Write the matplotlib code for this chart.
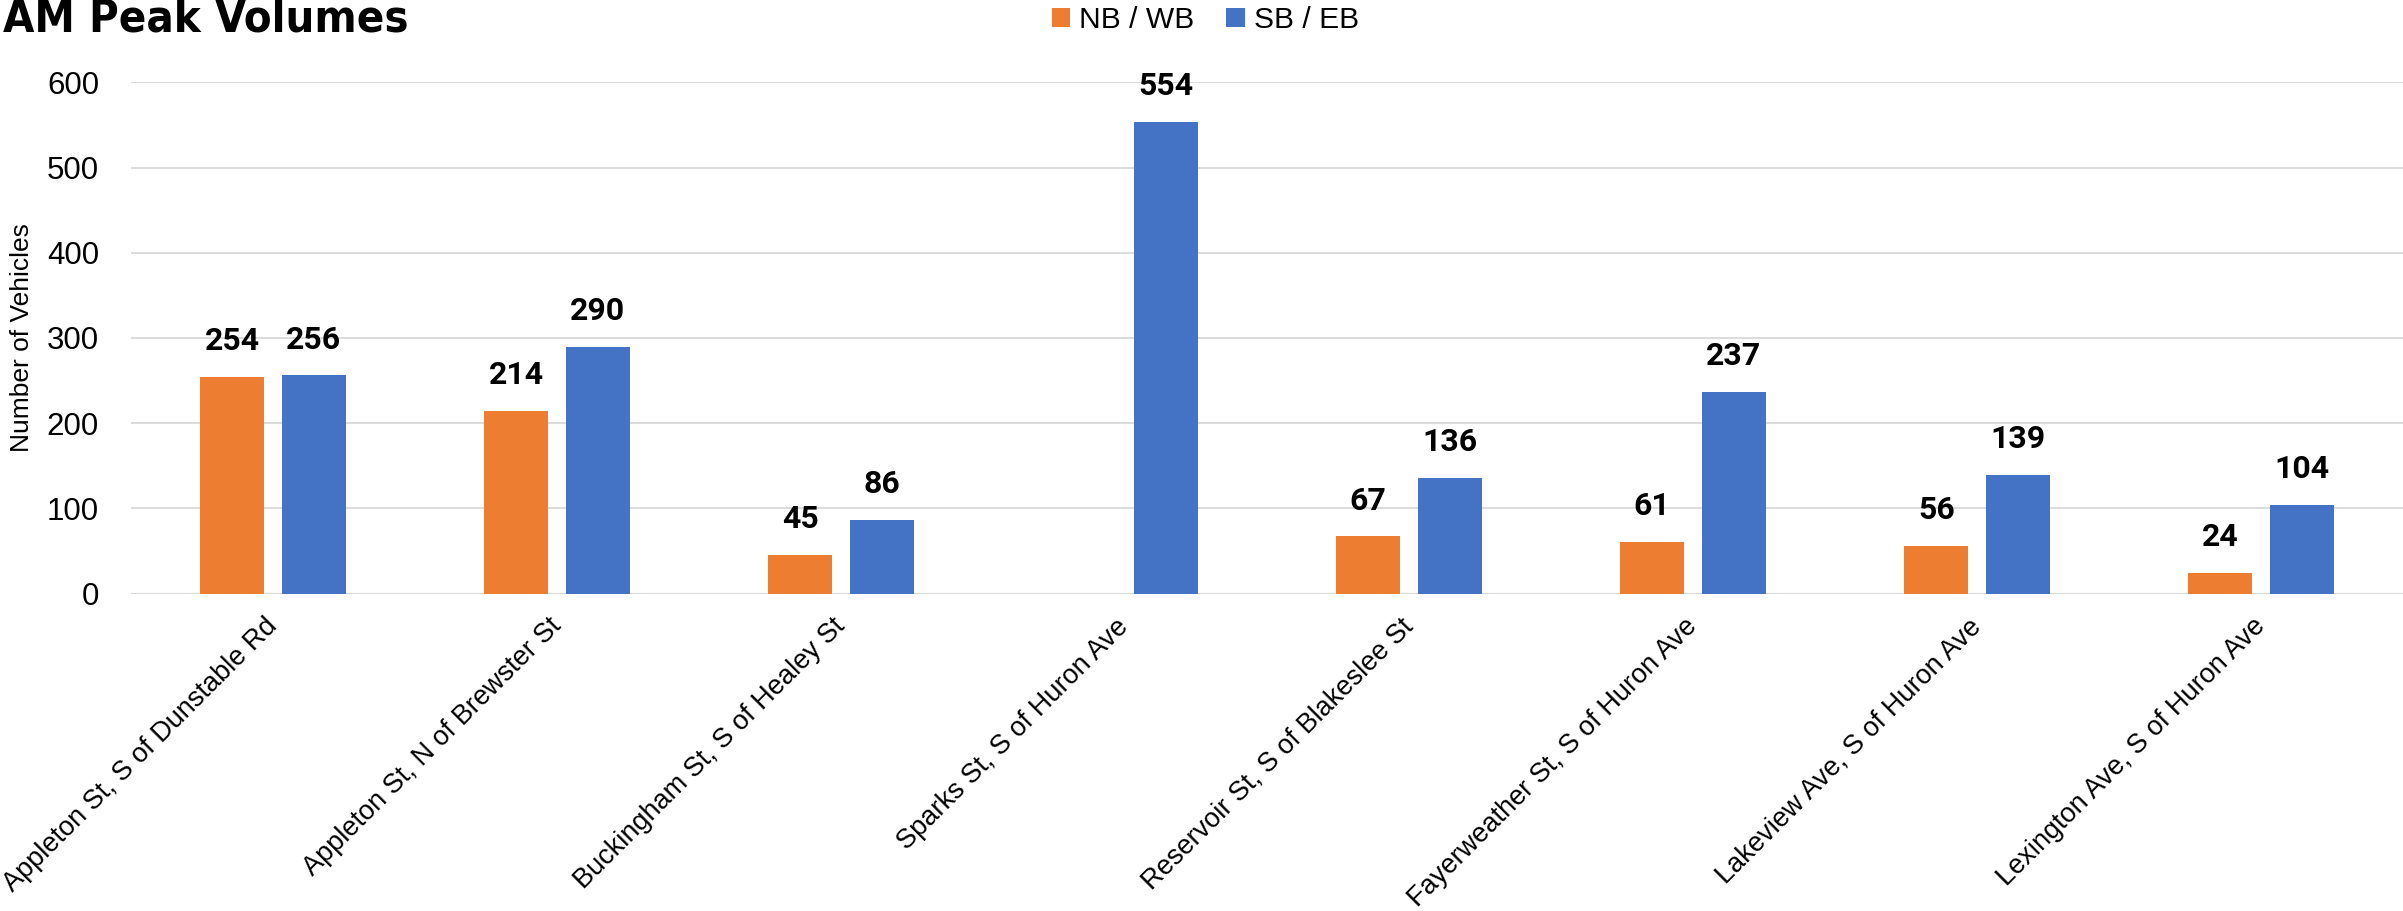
import matplotlib.pyplot as plt
from matplotlib import font_manager as fm
import numpy as np

# AM peak counts per location
locations = ['Appleton St, S of Dunstable Rd', 'Appleton St, N of Brewster St',
             'Buckingham St, S of Healey St', 'Sparks St, S of Huron Ave',
             'Reservoir St, S of Blakeslee St', 'Fayerweather St, S of Huron Ave',
             'Lakeview Ave, S of Huron Ave', 'Lexington Ave, S of Huron Ave']
nb_wb = [254, 214, 45, np.nan, 67, 61, 56, 24]   # no NB/WB count on Sparks St
sb_eb = [256, 290, 86, 554, 136, 237, 139, 104]
yticks = [0, 100, 200, 300, 400, 500, 600]

W, H = 2403, 911
fig = plt.figure(figsize=(W/100, H/100), dpi=100)
ax = fig.add_axes([131/W, 1-593.5/H, 1-131/W, (593.5-82.5)/H])

x = np.arange(len(locations))
w = 0.225
off = 0.1435
b1 = ax.bar(x-off, nb_wb, w, color='#ED7D31', label='NB / WB', zorder=2)
b2 = ax.bar(x+off, sb_eb, w, color='#4472C4', label='SB / EB', zorder=2)

for bars, vals in ((b1, nb_wb), (b2, sb_eb)):
    for bar, v in zip(bars, vals):
        if np.isnan(v):
            continue
        ax.annotate('%d' % v, (bar.get_x()+bar.get_width()/2, v),
                    xytext=(0, 15), textcoords='offset points',
                    ha='center', va='bottom', fontsize=23,
                    family='Roboto', weight='semibold')

ax.set_xlim(-0.5, len(locations)-0.5)
ax.set_ylim(0, 600)
ax.set_yticks(yticks)
ax.yaxis.grid(True, color='#D9D9D9', lw=1.3, zorder=0)
ax.set_axisbelow(True)
for s in ax.spines.values():
    s.set_visible(False)
ax.axhline(0, color='#D9D9D9', lw=1.5, zorder=1)

ax.set_xticks(x)
ax.set_xticklabels(locations, rotation=45, ha='right', va='center',
                   rotation_mode='anchor', fontsize=19.5, family='Liberation Sans')
ax.tick_params(axis='x', length=0, pad=21)
ax.tick_params(axis='y', length=0, pad=23, labelsize=22.5)
for t in ax.get_yticklabels():
    t.set_family('Liberation Sans')
ax.set_ylabel('Number of Vehicles', fontsize=19, family='Liberation Sans', labelpad=9)

fig.legend(loc='center', bbox_to_anchor=(0.5015, 0.978), ncol=2, frameon=False,
           prop={'family': 'Liberation Sans', 'size': 21.6},
           handlelength=0.63, handleheight=0.63, handletextpad=0.3,
           columnspacing=1.03, borderpad=0, borderaxespad=0)

# title: condensed bold face if one is installed
names = {f.name for f in fm.fontManager.ttflist}
tprop = None
if 'Liberation Sans Narrow' in names:
    tprop = fm.FontProperties(family='Liberation Sans Narrow', weight='bold')
else:
    cands = [f for f in fm.fontManager.ttflist
             if ('ondensed' in f.name or 'arrow' in f.name or 'ondensed' in str(f.stretch))
             and f.weight in (600, 700, 'bold', 'semibold')]
    if cands:
        tprop = fm.FontProperties(fname=cands[0].fname)
    else:
        tprop = fm.FontProperties(family='Roboto', weight='bold')
tprop.set_size(43)
title = fig.text(3/W, 1-31.7/H, 'AM Peak Volumes', ha='left', va='baseline',
                 fontproperties=tprop)
fig.canvas.draw()
tw = title.get_window_extent().width
if tw > 405:
    tprop.set_size(43*405/tw)
    title.set_fontproperties(tprop)

plt.savefig('out.png', dpi=100)
plt.close()
